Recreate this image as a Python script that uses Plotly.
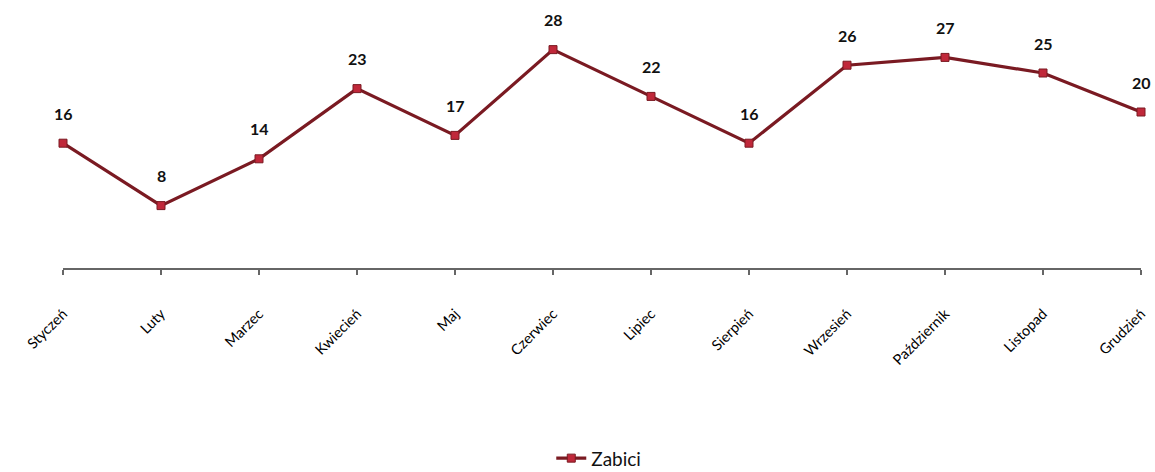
import plotly.graph_objects as go

months = ["Styczeń", "Luty", "Marzec", "Kwiecień", "Maj", "Czerwiec", "Lipiec",
          "Sierpień", "Wrzesień", "Październik", "Listopad", "Grudzień"]
zabici = [16, 8, 14, 23, 17, 28, 22, 16, 26, 27, 25, 20]

line_color = "#7a1a22"
marker_fill = "#c0283a"

fig = go.Figure()
fig.add_trace(go.Scatter(
    x=months, y=zabici, mode="lines+markers", name="Zabici",
    line=dict(color=line_color, width=3.2),
    marker=dict(symbol="square", size=8, color=marker_fill,
                line=dict(color=line_color, width=1)),
    cliponaxis=False,
    hoverinfo="skip",
))

for m, v in zip(months, zabici):
    fig.add_annotation(x=m, y=v, text=f"<b>{v}</b>", showarrow=False,
                       yshift=30, font=dict(size=16, color="#111111", family="Lato"))

fig.update_layout(
    width=1155, height=472,
    margin=dict(l=63, r=14, t=0, b=204, autoexpand=False),
    paper_bgcolor="white", plot_bgcolor="white",
    font=dict(family="Lato", color="#111111"),
    showlegend=True,
    legend=dict(orientation="h", x=0.497, xanchor="center", y=-0.71, yanchor="middle",
                font=dict(size=19, color="#111111", family="Lato")),
    xaxis=dict(
        type="category", range=[0, 11], showgrid=False, zeroline=False,
        showline=True, linecolor="#666666", linewidth=1.5,
        ticks="outside", ticklen=5, tickcolor="#666666", tickwidth=1.5,
        tickangle=-45, tickfont=dict(size=14.5, color="#000000", family="Lato"),
        ticklabelstandoff=25, automargin=False,
    ),
    yaxis=dict(range=[0, 34.36], visible=False, showgrid=False, zeroline=False,
               automargin=False),
)

fig.write_html("out.html")
